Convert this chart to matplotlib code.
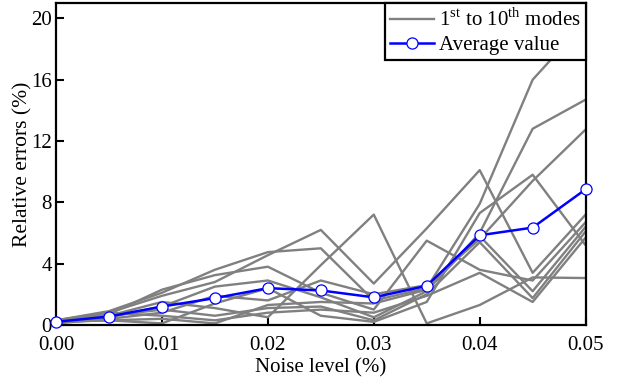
import matplotlib
matplotlib.use("Agg")
import matplotlib.pyplot as plt
import numpy as np

plt.rcParams['font.family'] = ['Liberation Serif', 'DejaVu Serif']
plt.rcParams['mathtext.fontset'] = 'custom'
plt.rcParams['mathtext.rm'] = 'Liberation Serif'

noise = [0.0, 0.005, 0.01, 0.015, 0.02, 0.025, 0.03, 0.035, 0.04, 0.045, 0.05]

# relative errors (%) of the single modes
mode_1 = [0.25, 0.8, 1.9, 2.8, 4.55, 6.2, 2.7, 6.3, 10.1, 3.4, 7.2]
mode_2 = [0.3, 0.9, 2.1, 3.6, 4.75, 5.0, 1.6, 2.4, 7.9, 16.0, 19.8]
mode_3 = [0.2, 0.6, 1.5, 1.1, 0.5, 3.9, 7.2, 0.1, 1.3, 3.1, 3.06]
mode_4 = [0.2, 0.7, 2.3, 3.25, 3.8, 2.1, 1.0, 5.5, 3.6, 2.9, 6.7]
mode_5 = [0.15, 0.5, 1.2, 2.5, 2.9, 1.8, 0.5, 2.2, 6.0, 12.8, 14.7]
mode_6 = [0.1, 0.4, 0.8, 1.9, 1.6, 2.9, 2.0, 2.6, 5.6, 9.4, 12.75]
mode_7 = [0.2, 0.3, 0.4, 0.1, 1.3, 1.5, 1.4, 2.3, 5.8, 2.2, 6.4]
mode_8 = [0.1, 0.6, 1.0, 0.6, 1.1, 1.2, 0.3, 2.0, 5.4, 1.75, 6.1]
mode_9 = [0.3, 0.8, 0.6, 0.3, 0.8, 1.0, 0.8, 1.9, 3.4, 1.5, 5.7]
mode_10 = [0.2, 0.3, 0.1, 1.4, 2.4, 0.6, 0.2, 1.5, 7.3, 9.8, 5.2]
modes = [mode_1, mode_2, mode_3, mode_4, mode_5, mode_6, mode_7, mode_8, mode_9, mode_10]

average = [0.2, 0.55, 1.2, 1.75, 2.4, 2.25, 1.8, 2.55, 5.85, 6.35, 8.85]

fig = plt.figure(figsize=(6.18, 3.85), dpi=100)
ax = fig.add_axes([0.0906, 0.156, 0.857, 0.836])

for i, m in enumerate(modes):
    ax.plot(noise, m, color='#808080', lw=1.7,
            label=r'1$^{\rm st}$ to 10$^{\rm th}$ modes' if i == 0 else None)

ax.plot(noise, average, color='#0000ff', lw=1.8, marker='o', ms=8,
        mfc='white', mec='#0000ff', mew=0.9, clip_on=False, zorder=5,
        label='Average value')

ax.set_xlim(0, 0.05)
ax.set_ylim(0, 21)
ax.set_xticks([0.0, 0.01, 0.02, 0.03, 0.04, 0.05])
ax.set_xticklabels(['0.00', '0.01', '0.02', '0.03', '0.04', '0.05'])
ax.set_yticks([0, 4, 8, 12, 16, 20])
ax.tick_params(direction='in', length=6, width=1.5, labelsize=15)
ax.tick_params(axis='x', pad=8)
ax.tick_params(axis='y', pad=3)
for s in ax.spines.values():
    s.set_linewidth(1.6)

ax.set_xlabel('Noise level (%)', fontsize=15, labelpad=2)
ax.set_ylabel('Relative errors (%)', fontsize=15.5, labelpad=-1)

leg = ax.legend(loc='upper right', fontsize=15, frameon=True, fancybox=False,
                framealpha=1, edgecolor='black', borderaxespad=0,
                handlelength=2.1, handletextpad=0.25, borderpad=0.25,
                labelspacing=0.22)
leg.get_frame().set_linewidth(1.6)
leg.set_zorder(10)

fig.savefig('out.png', dpi=100)
